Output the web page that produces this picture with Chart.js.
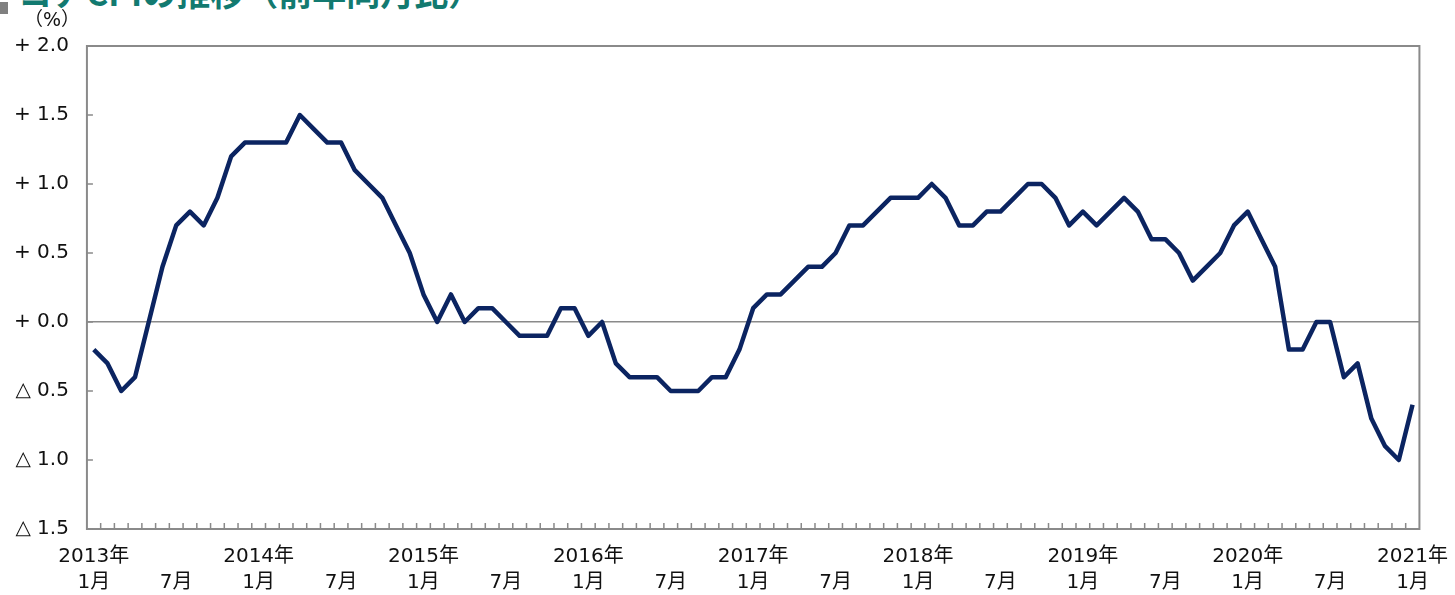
<!DOCTYPE html>
<html lang="ja">
<head>
<meta charset="utf-8">
<script src="https://cdn.jsdelivr.net/npm/chart.js@4"></script>
<style>
    body { margin: 0; background: #fff; }
    #wrap { position: relative; width: 1455px; height: 595px; overflow: hidden; }
    #mark { position: absolute; left: 0; top: 2px; width: 8px; height: 12px; background: #808080; }
    #title {
        position: absolute; left: 18px; top: -25px; margin: 0;
        font: bold 34px "Noto Sans CJK JP", sans-serif; line-height: 34px;
        color: #127a70; white-space: nowrap;
    }
    canvas { position: absolute; left: 0; top: 0; }
</style>
</head>
<body>
<div id="wrap">
    <div id="mark"></div>
    <h1 id="title">コアCPIの推移（前年同月比）</h1>
    <canvas id="cpiChart" width="1455" height="595"></canvas>
</div>
<script>
"use strict"

// 年と前年同月比（%）、2013年1月〜2021年1月
const years = [2013, 2014, 2015, 2016, 2017, 2018, 2019, 2020, 2021];
const cpi2013 = [-0.2, -0.3, -0.5, -0.4, 0.0, 0.4, 0.7, 0.8, 0.7, 0.9, 1.2, 1.3];
const cpi2014 = [1.3, 1.3, 1.3, 1.5, 1.4, 1.3, 1.3, 1.1, 1.0, 0.9, 0.7, 0.5];
const cpi2015 = [0.2, 0.0, 0.2, 0.0, 0.1, 0.1, 0.0, -0.1, -0.1, -0.1, 0.1, 0.1];
const cpi2016 = [-0.1, 0.0, -0.3, -0.4, -0.4, -0.4, -0.5, -0.5, -0.5, -0.4, -0.4, -0.2];
const cpi2017 = [0.1, 0.2, 0.2, 0.3, 0.4, 0.4, 0.5, 0.7, 0.7, 0.8, 0.9, 0.9];
const cpi2018 = [0.9, 1.0, 0.9, 0.7, 0.7, 0.8, 0.8, 0.9, 1.0, 1.0, 0.9, 0.7];
const cpi2019 = [0.8, 0.7, 0.8, 0.9, 0.8, 0.6, 0.6, 0.5, 0.3, 0.4, 0.5, 0.7];
const cpi2020 = [0.8, 0.6, 0.4, -0.2, -0.2, 0.0, 0.0, -0.4, -0.3, -0.7, -0.9, -1.0];
const cpi2021 = [-0.6];

// 目盛り
const yMin = -1.5;
const yMax = 2.0;
const yStep = 0.5;

const values = [].concat(cpi2013, cpi2014, cpi2015, cpi2016, cpi2017, cpi2018, cpi2019, cpi2020, cpi2021);

// カテゴリ（年, 月）を作る
const categories = [];
years.forEach(y => {
    for (let m = 1; m <= 12; m++) {
        if (categories.length < values.length) categories.push({ year: y, month: m });
    }
});

const axisGrey = '#8a8a8a';
const fontFamily = "'DejaVu Sans', 'Noto Sans CJK JP', sans-serif";

// 枠線、内向きの目盛り、(%) を描く
const framePlugin = {
    id: 'frame',
    afterDraw(chart) {
        const { ctx, chartArea: a, scales: { x, y } } = chart;
        ctx.save();
        ctx.strokeStyle = axisGrey;
        ctx.lineWidth = 2;
        ctx.strokeRect(a.left, a.top, a.right - a.left, a.bottom - a.top);

        ctx.lineWidth = 1.5;
        ctx.beginPath();
        // 縦軸の目盛り（内側）
        for (let v = yMin; v <= yMax + 1e-9; v += yStep) {
            const py = y.getPixelForValue(v);
            ctx.moveTo(a.left, py);
            ctx.lineTo(a.left + 6, py);
        }
        // 横軸の目盛り（カテゴリの境目）
        for (let i = 0; i < values.length - 1; i++) {
            const px = (x.getPixelForValue(i) + x.getPixelForValue(i + 1)) / 2;
            ctx.moveTo(px, a.bottom);
            ctx.lineTo(px, a.bottom - 6);
        }
        ctx.stroke();

        ctx.fillStyle = '#111';
        ctx.font = "19px " + fontFamily;
        ctx.textAlign = 'center';
        ctx.textBaseline = 'middle';
        ctx.fillText('（%）', 52, 21);
        ctx.restore();
    }
};

const ctx = document.getElementById('cpiChart').getContext('2d');

new Chart(ctx, {
    type: 'line',
    data: {
        labels: categories.map(c => c.year + '年' + c.month + '月'),
        datasets: [{
            label: 'コアCPI',
            data: values,
            borderColor: '#0b2461',
            borderWidth: 4.5,
            borderJoinStyle: 'round',
            pointRadius: 0,
            tension: 0,
            fill: false
        }]
    },
    options: {
        responsive: false,
        animation: false,
        devicePixelRatio: 1,
        layout: {
            padding: { left: -4, top: 46, right: 0, bottom: -8 }
        },
        plugins: {
            legend: { display: false },
            tooltip: { enabled: false }
        },
        scales: {
            x: {
                type: 'category',
                offset: true,
                border: { display: false },
                grid: { display: false },
                ticks: {
                    autoSkip: false,
                    maxRotation: 0,
                    padding: 7,
                    color: '#111',
                    font: { family: fontFamily, size: 20, lineHeight: 1.3 },
                    callback: (val, i) => {
                        const c = categories[i];
                        if (c.month === 1) return [c.year + '年', '1月'];
                        if (c.month === 7) return ['', '7月'];
                        return '';
                    }
                }
            },
            y: {
                min: yMin,
                max: yMax,
                border: { display: false },
                grid: {
                    drawTicks: false,
                    lineWidth: 1.5,
                    color: c => (c.tick && c.tick.value === 0 ? axisGrey : 'rgba(0,0,0,0)')
                },
                ticks: {
                    stepSize: yStep,
                    padding: 18,
                    color: '#111',
                    font: { family: fontFamily, size: 20 },
                    callback: v => (v >= 0 ? '+ ' + v.toFixed(1) : '△ ' + Math.abs(v).toFixed(1))
                }
            }
        }
    },
    plugins: [framePlugin]
});
</script>
</body>
</html>
